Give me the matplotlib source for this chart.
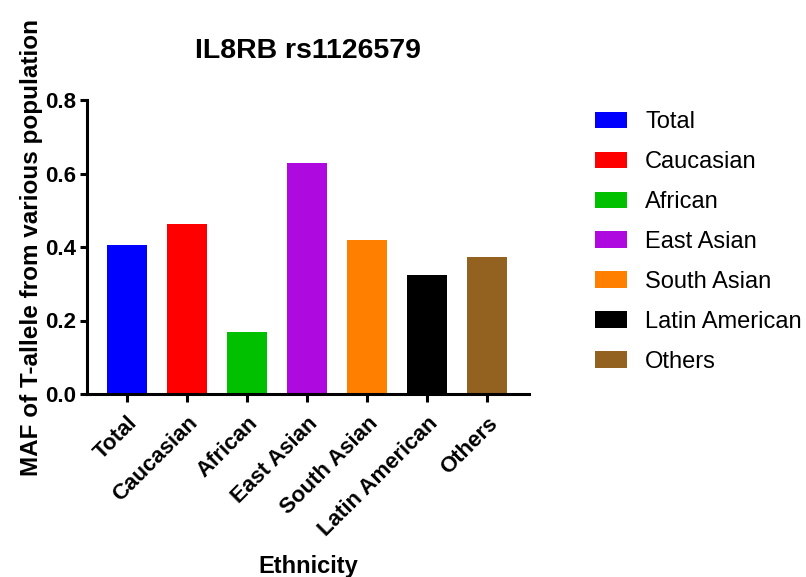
import matplotlib
matplotlib.use("Agg")
import matplotlib.pyplot as plt
from matplotlib.patches import Patch
from matplotlib.transforms import ScaledTranslation

plt.rcParams['font.family'] = ['Liberation Sans', 'DejaVu Sans']

# Data
categories = ["Total", "Caucasian", "African", "East Asian",
              "South Asian", "Latin American", "Others"]
maf_values = [0.405, 0.463, 0.168, 0.629, 0.418, 0.323, 0.372]
bar_colors = ["#0000FF", "#FF0000", "#00C000", "#AE0ADF",
              "#FF8000", "#000000", "#936220"]
y_ticks = [0.0, 0.2, 0.4, 0.6, 0.8]
y_tick_labels = ["0.0", "0.2", "0.4", "0.6", "0.8"]

fig = plt.figure(figsize=(8.06, 5.77), dpi=100)
ax = fig.add_axes([87 / 806, 1 - 394 / 577, (529 - 87) / 806, (394 - 100) / 577])

x = range(len(categories))
ax.bar(x, maf_values, width=0.667, color=bar_colors, edgecolor='none')

ax.set_xlim(-0.67, 6.7)
ax.set_ylim(0, 0.8)
ax.set_yticks(y_ticks)
ax.set_yticklabels(y_tick_labels, fontsize=16, fontweight='bold')
ax.set_xticks(list(x))
ax.set_xticklabels(categories, rotation=45, ha='right', rotation_mode='anchor',
                   fontsize=16, fontweight='bold')
# nudge rotated labels a little to the left, like the reference
shift = ScaledTranslation(-4 / 72, 0, fig.dpi_scale_trans)
for lbl in ax.get_xticklabels():
    lbl.set_transform(lbl.get_transform() + shift)

for side in ['top', 'right']:
    ax.spines[side].set_visible(False)
for side in ['left', 'bottom']:
    ax.spines[side].set_linewidth(2.2)
ax.tick_params(axis='y', width=2.2, length=5, pad=3)
ax.tick_params(axis='x', width=2.2, length=6, pad=7.5)

ax.set_title("IL8RB rs1126579", fontsize=20.5, fontweight='bold', pad=30)
ax.set_ylabel("MAF of T-allele from various population", fontsize=17.5,
              fontweight='bold', labelpad=1)
ax.set_xlabel("Ethnicity", fontsize=17, fontweight='bold', labelpad=10.5)

handles = [Patch(facecolor=c, edgecolor='none', label=lab)
           for c, lab in zip(bar_colors, categories)]
fig.legend(handles=handles, loc='upper left',
           bbox_to_anchor=(595 / 806, 1 - 111 / 577),
           frameon=False, fontsize=17, handlelength=1.36, handleheight=0.68,
           handletextpad=0.76, labelspacing=0.76, borderpad=0, borderaxespad=0)

fig.savefig("out.png", dpi=100)
